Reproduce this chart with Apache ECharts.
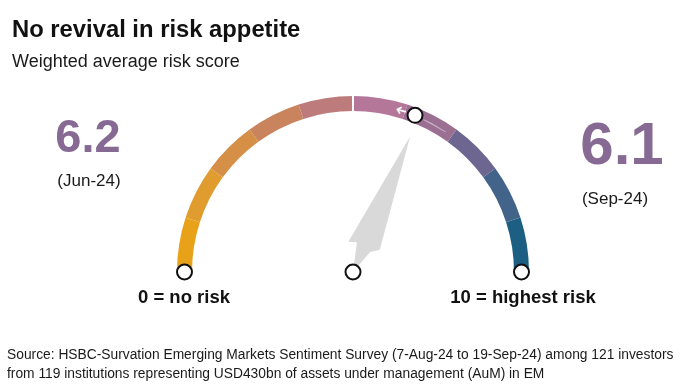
<!DOCTYPE html>
<html>
<head>
<meta charset="utf-8">
<script src="https://cdn.jsdelivr.net/npm/echarts@6/dist/echarts.min.js"></script>
<style>
html,body{margin:0;padding:0;background:#fff;}
#chart{width:696px;height:390px;}
</style>
</head>
<body>
<div id="chart"></div>
<script>
// ---- data ----
var scaleMin = 0;
var scaleMax = 10;
var segmentColors = ['#E8A21A','#E09C2E','#D58F47','#C9845E','#BD7B7C','#B4779A','#9A6F92','#6C6690','#42648A','#1D5F82'];
var periodLabels = ['(Jun-24)', '(Sep-24)'];
var periodScores = ['6.2', '6.1'];
var needleValue = [6.27];          // where the grey needle points
var previousMarker = [6.2];        // ring marker on the arc
var arrowPosition = [5.92];        // small white arrow
var trail = [6.38, 6.86];          // faint trail on the arc
var endLabels = ['0 = no risk', '10 = highest risk'];
var titleText = 'No revival in risk appetite';
var subtitleText = 'Weighted average risk score';
var sourceLines = [
  'Source: HSBC-Survation Emerging Markets Sentiment Survey (7-Aug-24 to 19-Sep-24) among 121 investors',
  'from 119 institutions representing USD430bn of assets under management (AuM) in EM'
];

var FONT = "'Liberation Sans', Arial, Helvetica, sans-serif";
var PURPLE = '#876A93';
var cx = 353, cy = 272, outerR = 176, bandW = 15;

var stops = segmentColors.map(function (c, i) { return [(i + 1) / segmentColors.length, c]; });

var chart = echarts.init(document.getElementById('chart'), null, {renderer: 'canvas'});

function txt(text, x, y, font, fill, align) {
  return {type: 'text', silent: true, style: {text: text, x: x, y: y, font: font, fill: fill,
    align: align || 'left', textAlign: align || 'left', verticalAlign: 'middle', textVerticalAlign: 'middle'}};
}

var option = {
  animation: false,
  backgroundColor: '#fff',
  polar: {center: [cx, cy], radius: outerR - bandW / 2},
  angleAxis: {type: 'value', min: 0, max: 20, startAngle: 180, clockwise: true, show: false},
  radiusAxis: {type: 'value', min: 0, max: 1, show: false},
  series: [
    {
      type: 'gauge',
      center: [cx, cy],
      radius: outerR,
      startAngle: 180,
      endAngle: 0,
      min: scaleMin,
      max: scaleMax,
      splitNumber: 2,
      axisLine: {lineStyle: {width: bandW, color: stops}},
      splitLine: {show: true, length: bandW, distance: -bandW, lineStyle: {color: '#fff', width: 2}},
      axisTick: {show: false},
      axisLabel: {show: false},
      pointer: {
        show: true,
        icon: 'path://M16,0 L32,116 L24,122 L16,147 L8,118 L0,121 Z',
        length: 147,
        width: 32,
        keepAspect: false,
        itemStyle: {color: '#D9D9D9'}
      },
      anchor: {show: false},
      title: {show: false},
      detail: {show: false},
      z: 2,
      data: needleValue.map(function (v) { return {value: v}; })
    },
    {
      type: 'line',
      coordinateSystem: 'polar',
      data: trail.map(function (v) { return [1, v]; }),
      symbol: 'none',
      lineStyle: {color: 'rgba(255,255,255,0.45)', width: 2},
      silent: true,
      z: 5
    },
    {
      type: 'scatter',
      coordinateSystem: 'polar',
      data: arrowPosition.map(function (v) { return [1, v]; }),
      symbol: 'path://M0,5 L5,0 L6.5,1.5 L3.8,4 L12,4 L12,6 L3.8,6 L6.5,8.5 L5,10 Z',
      symbolSize: [10, 8],
      symbolRotate: -16,
      itemStyle: {color: '#ffffff', opacity: 1},
      silent: true,
      z: 6
    },
    {
      type: 'scatter',
      coordinateSystem: 'polar',
      data: [[1, scaleMin], [0, 0], [1, scaleMax]].concat(previousMarker.map(function (v) { return [1, v]; })),
      symbol: 'circle',
      symbolSize: 15,
      itemStyle: {color: '#ffffff', borderColor: '#111111', borderWidth: 2, opacity: 1},
      silent: true,
      z: 10
    }
  ],
  graphic: [
    txt(titleText, 12, 30, 'bold 23.8px ' + FONT, '#111'),
    txt(subtitleText, 12, 62, '18px ' + FONT, '#1a1a1a'),
    txt(periodScores[0], 88, 139, 'bold 47px ' + FONT, PURPLE, 'center'),
    txt(periodLabels[0], 89, 181, '17px ' + FONT, '#1a1a1a', 'center'),
    txt(periodScores[1], 622, 147, 'bold 60px ' + FONT, PURPLE, 'center'),
    txt(periodLabels[1], 615, 199, '17px ' + FONT, '#1a1a1a', 'center'),
    txt(endLabels[0], 184, 298, 'bold 18.5px ' + FONT, '#111', 'center'),
    txt(endLabels[1], 523, 298, 'bold 18.5px ' + FONT, '#111', 'center'),
    txt(sourceLines[0], 7, 355, '13.8px ' + FONT, '#1a1a1a'),
    txt(sourceLines[1], 7, 374, '13.8px ' + FONT, '#1a1a1a')
  ]
};
chart.setOption(option);
</script>
</body>
</html>
